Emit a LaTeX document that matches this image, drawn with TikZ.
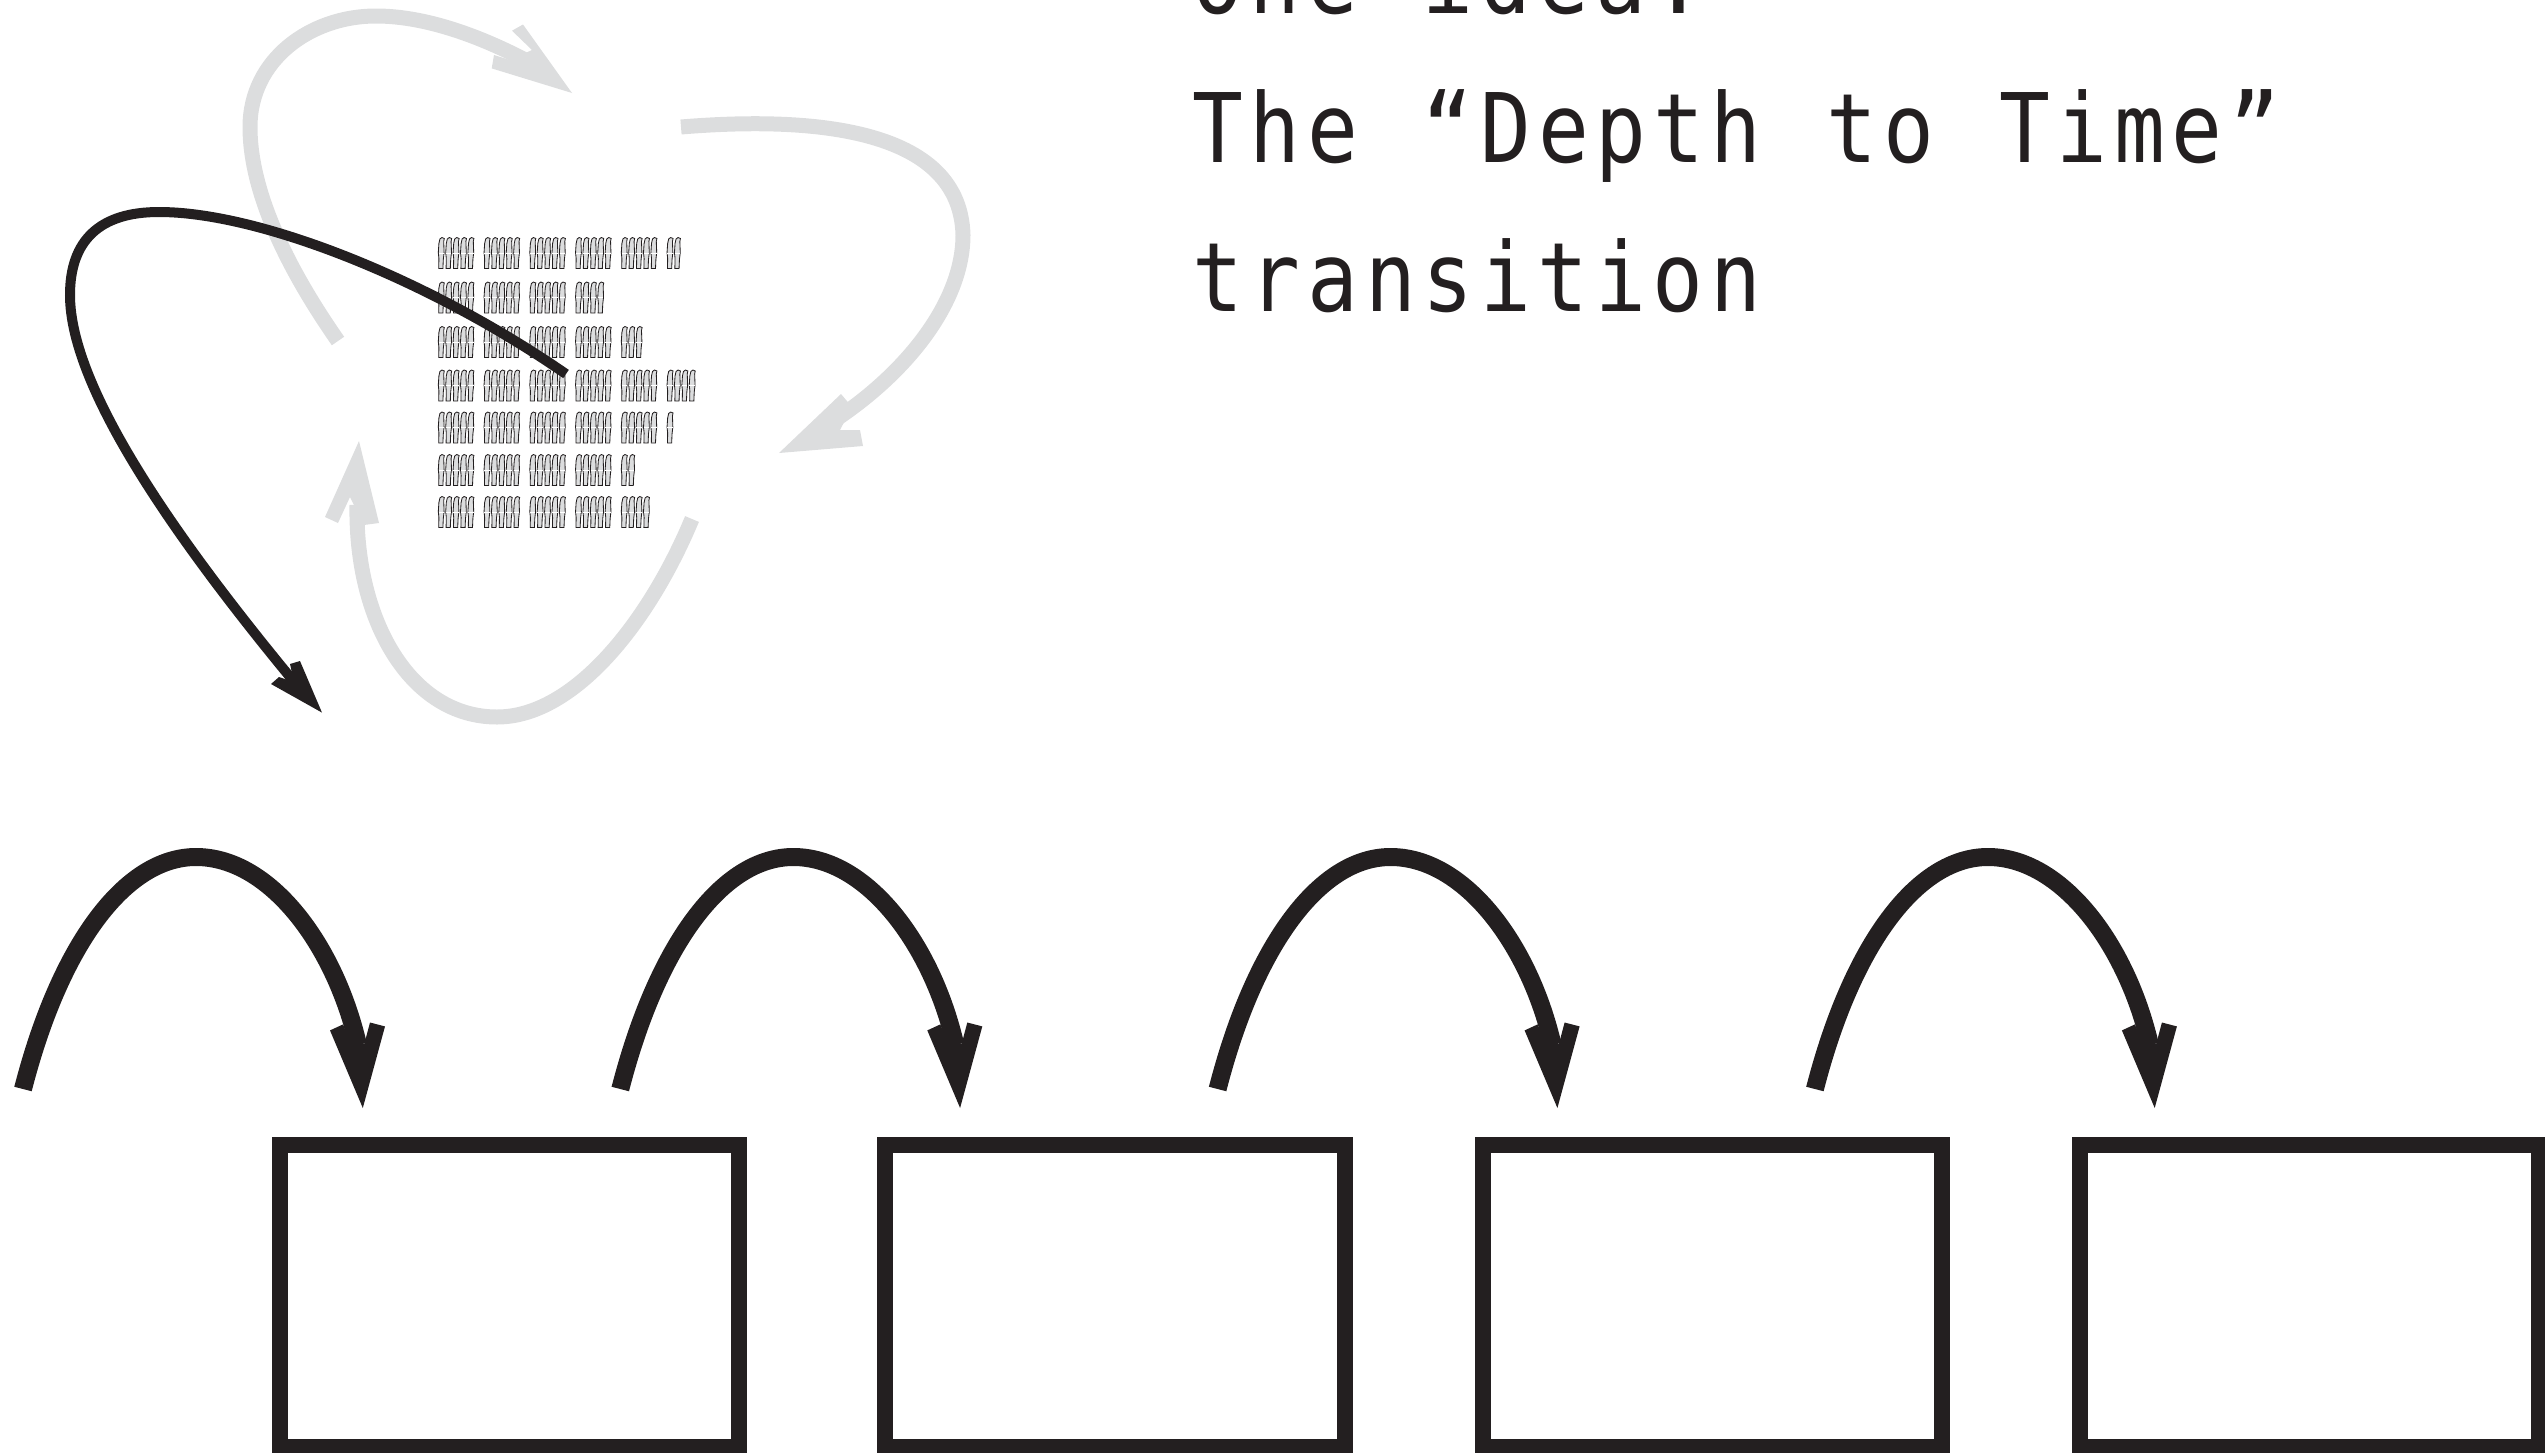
\documentclass[tikz,border=0pt]{standalone}
\usepackage{fontspec}
\setmonofont[FakeStretch=0.88,LetterSpace=7,WordSpace=1.12]{DejaVu Sans Mono}
\definecolor{ink}{HTML}{231F20}
\definecolor{pale}{HTML}{DCDDDE}
\tikzset{
  inkline/.style={draw=ink,line width=9pt,line cap=butt},
  inkthin/.style={draw=ink,line width=5pt,line cap=butt},
  paleline/.style={draw=pale,line width=7.5pt,line cap=butt},
  framebox/.style={draw=ink,line width=8pt,fill=none,minimum width=229.75pt,minimum height=151pt,inner sep=0pt,outer sep=0pt},
  bigtext/.style={anchor=base west,inner sep=0pt,font=\ttfamily\fontsize{48pt}{48pt}\selectfont,text=ink},
}
\newcommand{\person}[2]{%
  \fill[pale,draw=ink,line width=0.42pt] (#1+1,#2+31) -- (#1+1.2,#2+21) -- (#1+0.6,#2+15) -- (#1+1.2,#2+6) -- (#1+2.2,#2+1.5) -- (#1+4.2,#2+0) -- (#1+6.6,#2+1) -- (#1+6,#2+4) -- (#1+6.4,#2+15) -- (#1+5.6,#2+22) -- (#1+5.2,#2+31) -- cycle;
  \draw[white,line width=0.3pt] (#1+0.8,#2+15.5) -- (#1+6.2,#2+15.5);
}
\begin{document}
\begin{tikzpicture}[x=0.5pt,y=-0.5pt]
\useasboundingbox (0,0) rectangle (2545,1452);
% people
\foreach \ry/\rn in {237.5/27,282/19,326.5/23,370/29,412/26,454.5/22,496.5/24}{
  \pgfmathsetmacro{\last}{int(\rn-1)}
  \foreach \k in {0,...,\last}{
    \pgfmathsetmacro{\px}{437.7+45.75*floor(\k/5)+7.4*mod(\k,5)}
    \person{\px}{\ry}
  }
}
% pale arrows
\path[paleline] (338,341) .. controls (285,265) and (250,190) .. (250,127)
   .. controls (250,60) and (310,16) .. (376,16) .. controls (430,16) and (490,40) .. (540,68);
\fill[pale] (572,93) -- (523,24.5) -- (512,30.7) -- (532,50) -- (510,60) -- (494,55) -- (491.7,68.4) -- cycle;
\path[paleline] (681,127) .. controls (790,118) and (960,120) .. (963,235)
   .. controls (963,300) and (910,370) .. (835,420);
\fill[pale] (779,453) -- (841,394) -- (852,407) -- (840,430) -- (860,430) -- (863,446) -- cycle;
\path[paleline] (692,519) .. controls (650,620) and (575,717) .. (497,717)
   .. controls (410,717) and (355,620) .. (357,505);
\fill[pale] (359,441) -- (325,517) -- (338,523) -- (350,497) -- (364,525) -- (379,523) -- cycle;
% dark long arrow
\coordinate (longstart) at (566,374);
\coordinate (longend) at (305,695);
\path[inkthin] (longstart) .. controls (430,280) and (260,212) .. (159,212)
   .. controls (100,212) and (70,240) .. (70,295)
   .. controls (70,390) and (180,545) .. (longend);
\fill[ink] (322,712.6) -- (271,684) -- (279,677) -- (294,682) -- (290,664) -- (300,661) -- cycle;
% text
\node[bigtext] (line0) at (1192,13) {One idea.};
\node[bigtext] (line1) at (1192,162) {The “Depth to Time”};
\node[bigtext] (line2) at (1192,311) {transition};
% boxes
\node[framebox] (box1) at (509.5,1296) {};
\node[framebox] (box2) at (1115,1296) {};
\node[framebox] (box3) at (1712.3,1296) {};
\node[framebox] (box4) at (2309.6,1296) {};
% hop arrows
\foreach \i in {0,1,2,3}{
  \begin{scope}[xshift=\i*298.65pt]
    \coordinate (hopstart\i) at (23,1089);
    \coordinate (hopend\i) at (358,1045);
    \path[inkline] (hopstart\i) .. controls (60,945) and (125,857) .. (196,857)
      .. controls (270,857) and (335,945) .. (hopend\i);
    \fill[ink] (362.8,1108) -- (330,1030.4) -- (343,1024.4) -- (350,1040) -- (364.3,1044) -- (370,1022.5) -- (385,1026.4) -- cycle;
  \end{scope}
}
\end{tikzpicture}
\end{document}
